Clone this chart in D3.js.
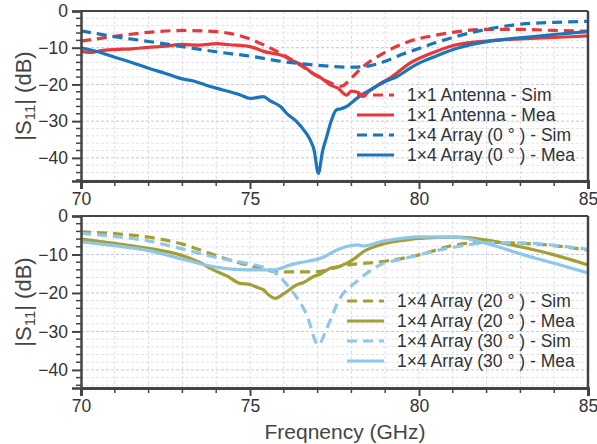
<!DOCTYPE html>
<html>
<head>
<meta charset="utf-8">
<script src="https://cdn.jsdelivr.net/npm/d3@7"></script>
<style>
  body { margin: 0; background: #fff; }
  svg { display: block; font-family: "Liberation Sans", Arial, sans-serif; }
</style>
</head>
<body>
<div id="chart"></div>
<script>
// axis ticks
var freqTicks = [70, 75, 80, 85];
var dbTicks = [0, -10, -20, -30, -40];

// top panel: 1x1 antenna and 1x4 array at 0 deg
var antSimF  = [70, 71, 72, 73, 74, 74.4, 75, 75.4, 76, 76.4, 77.2, 77.7, 78, 78.35, 78.85, 79.7, 80.5, 81, 82, 83, 84, 85];
var antSimDb = [-8.2, -6.9, -5.8, -5.3, -5.6, -6.1, -7.6, -9.2, -12, -14.2, -18.8, -20.5, -18.2, -15.1, -12, -8.3, -6.6, -5.8, -5, -5, -5.3, -5.5];

var antMeaF  = [70, 70.3, 70.6, 71, 71.5, 72, 72.5, 73, 73.5, 74, 74.4, 75, 75.4, 76, 76.2, 76.5, 76.86, 77.1, 77.37, 77.6, 77.86, 78, 78.2, 78.35, 78.5, 78.65, 78.9, 79.14, 79.4, 79.73, 80, 80.5, 81.1, 82.1, 83, 84, 85];
var antMeaDb = [-11, -11.3, -10.8, -10.5, -10.3, -9.9, -9.6, -9.1, -9.3, -8.9, -9.2, -9.7, -11, -12.3, -13.3, -14.5, -17, -18.2, -20.1, -21, -22.9, -21.8, -22.2, -23.3, -22, -21, -19.5, -18.3, -16.5, -14.2, -12.9, -11, -9.2, -8.1, -7.6, -7.2, -6.8];

var arrSim0F  = [70, 71, 72, 73, 74, 75, 76, 77, 78, 78.5, 79, 79.5, 80, 80.5, 81, 82, 83, 84, 85];
var arrSim0Db = [-5.4, -7, -8.3, -9.7, -11.1, -12.3, -13.8, -14.8, -15.3, -15, -13.7, -11.8, -10.2, -8.6, -7.2, -5, -3.6, -3.1, -2.8];

var arrMea0F  = [70, 70.5, 71, 71.5, 72, 72.5, 73, 73.3, 73.7, 74, 74.4, 74.7, 75, 75.2, 75.4, 75.6, 75.9, 76.1, 76.38, 76.6, 76.78, 76.9, 77.02, 77.15, 77.27, 77.4, 77.56, 77.7, 77.86, 78, 78.16, 78.4, 78.65, 79, 79.34, 79.73, 80, 80.5, 81.1, 82.1, 83, 84, 85];
var arrMea0Db = [-10, -11.1, -12.6, -14, -15.6, -17, -18.5, -19, -20.2, -21, -22, -22.8, -23.8, -23.6, -23.3, -24.5, -26, -28, -30.1, -32.5, -35.1, -38, -44.2, -38, -34.2, -30, -26.9, -26.6, -26, -25, -23.8, -22.3, -21, -19.2, -17.9, -15.6, -14.2, -12.3, -10.2, -8.2, -7.3, -6.4, -5.6];

// bottom panel: 1x4 array steered to 20 and 30 deg
var arrSim20F  = [70, 71, 72, 73, 74, 75, 75.9, 76.9, 77.9, 78.85, 80, 81.1, 82.1, 83, 84, 85];
var arrSim20Db = [-4.1, -4.6, -5.5, -7.3, -10.3, -12.9, -14.5, -14.5, -12.7, -11.9, -10.1, -7.5, -6.8, -7.1, -7.7, -8.9];

var arrMea20F  = [70, 71, 72, 72.93, 73.5, 73.91, 74.3, 74.7, 75, 75.2, 75.4, 75.55, 75.74, 76, 76.38, 76.6, 76.87, 77.1, 77.37, 77.6, 77.86, 78.1, 78.35, 78.85, 79.4, 80, 81.1, 82.1, 83, 84, 85];
var arrMea20Db = [-6, -7.1, -8.4, -10.1, -12, -14, -15.5, -17.5, -17.8, -18.5, -19.2, -20.5, -21.4, -20.2, -17.9, -17.2, -15.8, -15, -13.6, -13.2, -12.3, -11, -9.3, -7.5, -6.5, -5.8, -5.5, -6.4, -8, -10.1, -12.7];

var arrSim30F  = [70, 71, 72, 72.93, 73.91, 74.9, 75.4, 75.7, 76.18, 76.68, 77.02, 77.27, 77.66, 78.16, 78.85, 79.5, 80, 81.1, 82.1, 83, 84, 85];
var arrSim30Db = [-4.5, -5.3, -6.5, -8.4, -10.6, -12.3, -13.3, -14.5, -18.8, -25.7, -33.5, -29.2, -21.4, -17, -12.7, -11.2, -10.1, -8, -7, -7, -7.6, -8.7];

var arrMea30F  = [70, 71, 72, 73, 74, 74.9, 75.7, 76.2, 76.38, 77.2, 77.37, 78.2, 78.35, 78.85, 79.5, 80, 81.1, 82.1, 83.1, 84, 85];
var arrMea30Db = [-6.7, -7.7, -9, -11.2, -13.3, -14, -14, -12.7, -12.3, -10.6, -9.7, -7.5, -7.8, -6.7, -5.8, -5.4, -5.5, -7.4, -10.1, -12.3, -14.8];

var width = 597, height = 444;
var svg = d3.select("#chart").append("svg")
  .attr("width", width)
  .attr("height", height);

var x = d3.scaleLinear().domain([70, 85]).range([81, 588]);

function drawPanel(id, top, bottom, yMin, series, legendX, legendY, textX) {
  var y = d3.scaleLinear().domain([yMin, 0]).range([bottom, top]);
  var g = svg.append("g");

  // grid
  d3.range(71, 85).forEach(function(f) {
    g.append("line")
      .attr("x1", x(f)).attr("x2", x(f))
      .attr("y1", top).attr("y2", bottom)
      .attr("stroke", "#dcdcea").attr("stroke-width", 1)
      .attr("stroke-dasharray", "3,2");
  });
  d3.range(-2, yMin, -2).forEach(function(v) {
    var major = v % 10 === 0;
    g.append("line")
      .attr("x1", 81).attr("x2", 588)
      .attr("y1", y(v)).attr("y2", y(v))
      .attr("stroke", major ? "#c4c4e6" : "#e2e2ea").attr("stroke-width", 1)
      .attr("stroke-dasharray", "3,2");
  });

  // clip for the curves
  svg.append("clipPath").attr("id", id)
    .append("rect").attr("x", 81).attr("y", top).attr("width", 507).attr("height", bottom - top);

  var line = d3.line()
    .x(function(d) { return x(d[0]); })
    .y(function(d) { return y(d[1]); })
    .curve(d3.curveMonotoneX);

  series.forEach(function(s) {
    var pts = s.f.map(function(f, i) { return [f, s.db[i]]; });
    g.append("path")
      .datum(pts)
      .attr("clip-path", "url(#" + id + ")")
      .attr("d", line)
      .attr("fill", "none")
      .attr("stroke", s.color)
      .attr("stroke-width", 3.2)
      .attr("stroke-linejoin", "round")
      .attr("stroke-dasharray", s.dash ? "10,6" : null);
  });

  // frame: top and right borders
  g.append("line").attr("x1", 81).attr("x2", 588).attr("y1", top).attr("y2", top)
    .attr("stroke", "#444").attr("stroke-width", 2);
  g.append("line").attr("x1", 588).attr("x2", 588).attr("y1", top).attr("y2", bottom)
    .attr("stroke", "#444").attr("stroke-width", 2.5);

  // y axis
  var yAxis = d3.axisLeft(y).tickValues(dbTicks).tickSize(9).tickPadding(4)
    .tickFormat(function(d) { return d === 0 ? "0" : "\u2212" + Math.abs(d); });
  var ya = g.append("g").attr("transform", "translate(81,0)").call(yAxis);
  ya.select(".domain").attr("stroke", "#444").attr("stroke-width", 2.5);
  ya.selectAll(".tick line").attr("stroke", "#444").attr("stroke-width", 2);
  ya.selectAll("text").attr("font-size", 17.5).attr("fill", "#333");
  d3.range(-2, yMin, -2).filter(function(v) { return v % 10 !== 0; }).forEach(function(v) {
    g.append("line").attr("x1", 76).attr("x2", 81).attr("y1", y(v)).attr("y2", y(v))
      .attr("stroke", "#444").attr("stroke-width", 1.5);
  });

  // x axis
  var xAxis = d3.axisBottom(x).tickValues(freqTicks).tickSize(8).tickPadding(4)
    .tickFormat(d3.format("d"));
  var xa = g.append("g").attr("transform", "translate(0," + bottom + ")").call(xAxis);
  xa.select(".domain").attr("stroke", "#444").attr("stroke-width", 3);
  xa.selectAll(".tick line").attr("stroke", "#444").attr("stroke-width", 2);
  xa.selectAll("text").attr("font-size", 17.5).attr("fill", "#333");
  d3.range(71, 85).filter(function(f) { return f % 5 !== 0; }).forEach(function(f) {
    g.append("line").attr("x1", x(f)).attr("x2", x(f)).attr("y1", bottom).attr("y2", bottom + 5)
      .attr("stroke", "#444").attr("stroke-width", 1.5);
  });

  // y title
  var yt = g.append("text")
    .attr("transform", "translate(31," + ((top + bottom) / 2) + ") rotate(-90)")
    .attr("text-anchor", "middle")
    .attr("font-size", 22)
    .attr("fill", "#444");
  yt.append("tspan").text("|S");
  yt.append("tspan").attr("font-size", 15).attr("dy", 4).text("11");
  yt.append("tspan").attr("dy", -4).text("| (dB)");

  // legend
  series.forEach(function(s, i) {
    var ly = legendY + i * 20;
    g.append("line")
      .attr("x1", legendX).attr("x2", legendX + 37)
      .attr("y1", ly).attr("y2", ly)
      .attr("stroke", s.color).attr("stroke-width", 3.2)
      .attr("stroke-dasharray", s.dash ? "10,6" : null);
    g.append("text")
      .attr("x", textX).attr("y", ly + 6)
      .attr("font-size", 17.5)
      .attr("fill", "#333")
      .text(s.name);
  });
}

var red = "#e8383a", blue = "#1b75bb", olive = "#a2a035", lightBlue = "#8fc7ea";

drawPanel("clipTop", 11, 181, -46.3, [
  { name: "1\u00d71 Antenna - Sim", f: antSimF, db: antSimDb, color: red, dash: true },
  { name: "1\u00d71 Antenna - Mea", f: antMeaF, db: antMeaDb, color: red, dash: false },
  { name: "1\u00d74 Array (0 \u00b0 ) - Sim", f: arrSim0F, db: arrSim0Db, color: blue, dash: true },
  { name: "1\u00d74 Array (0 \u00b0 ) - Mea", f: arrMea0F, db: arrMea0Db, color: blue, dash: false }
], 357, 95, 407);

drawPanel("clipBottom", 216, 388, -44.7, [
  { name: "1\u00d74 Array (20 \u00b0 ) - Sim", f: arrSim20F, db: arrSim20Db, color: olive, dash: true },
  { name: "1\u00d74 Array (20 \u00b0 ) - Mea", f: arrMea20F, db: arrMea20Db, color: olive, dash: false },
  { name: "1\u00d74 Array (30 \u00b0 ) - Sim", f: arrSim30F, db: arrSim30Db, color: lightBlue, dash: true },
  { name: "1\u00d74 Array (30 \u00b0 ) - Mea", f: arrMea30F, db: arrMea30Db, color: lightBlue, dash: false }
], 347, 301, 397);

// x title
svg.append("text")
  .attr("x", 345).attr("y", 439)
  .attr("text-anchor", "middle")
  .attr("font-size", 21)
  .attr("fill", "#444")
  .text("Freqnency (GHz)");
</script>
</body>
</html>
